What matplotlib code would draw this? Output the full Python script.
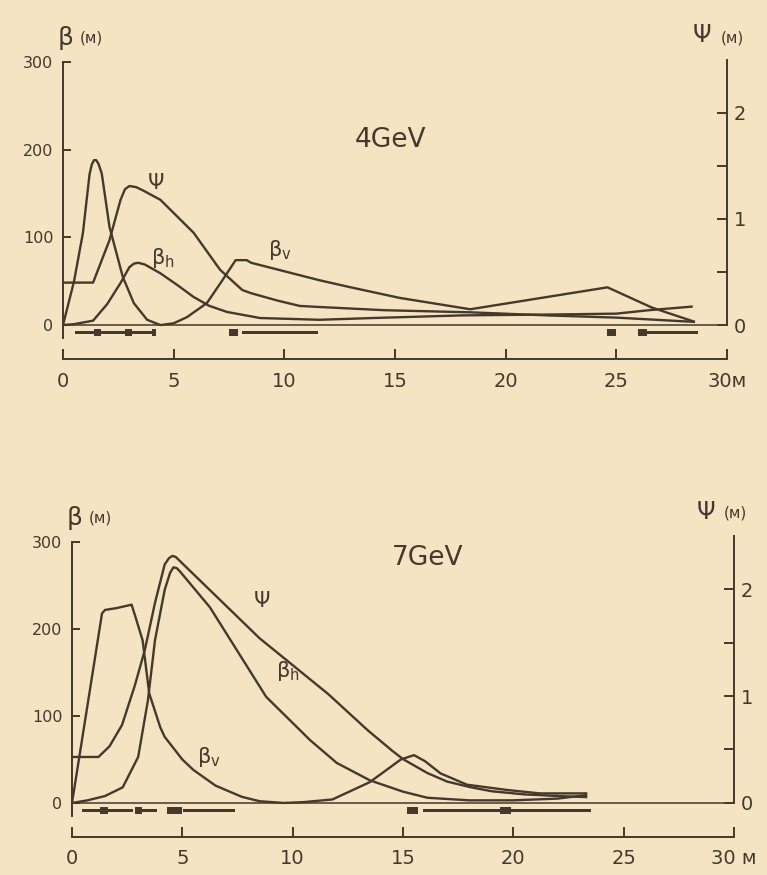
import matplotlib
matplotlib.use('Agg')
import matplotlib.pyplot as plt

plt.rcParams['font.family'] = ['DejaVu Sans']

PAPER = '#f4e4c1'
INK = '#45382f'

# ---- 4 GeV (top) ----
s_bv4 = [0, 0.5, 0.9, 1.2, 1.3, 1.4, 1.5, 1.6, 1.75, 2.1, 2.7, 3.2, 3.8, 4.4, 5.0, 5.6, 6.5, 7.2, 7.8, 8.3,
         8.5, 11.6, 13.0, 15.2, 18.4, 24.6, 26.6, 28.5]
bv4 = [0, 50, 105, 172, 183, 188, 188, 184, 173, 112, 55, 25, 6, 0, 2, 9, 25, 51, 74, 74,
       71, 51, 43, 31, 18, 43, 20, 4]
s_bh4 = [0, 0.5, 1.36, 2.0, 2.6, 3.0, 3.2, 3.4, 3.7, 4.4, 5.2, 5.9, 6.6, 7.4, 8.9, 11.6, 14.0, 18.0, 22.0,
         25.0, 26.5, 28.4]
bh4 = [0, 1, 5, 24, 48, 66, 70, 71, 69, 59, 45, 32, 22, 15, 8, 6, 8, 11, 12, 13, 17, 21]
s_psi4 = [0, 1.36, 2.1, 2.6, 2.8, 3.0, 3.3, 3.6, 4.4, 5.9, 7.1, 8.1, 8.5, 9.7, 10.7, 11.6, 14.5, 18.4, 22.0,
          25.0, 28.5]
psi4 = [0.40, 0.40, 0.80, 1.18, 1.28, 1.31, 1.30, 1.27, 1.18, 0.87, 0.52, 0.33, 0.30, 0.23, 0.18, 0.17,
        0.14, 0.12, 0.09, 0.07, 0.03]
# magnets: (start, length)
thin4 = [(0.54, 0.9), (1.7, 1.1), (3.1, 0.9), (8.1, 3.4), (26.4, 2.3)]
block4 = [(1.4, 0.3), (2.8, 0.3), (4.0, 0.2), (7.5, 0.4), (24.6, 0.4), (26.0, 0.4)]

# ---- 7 GeV (bottom) ----
s_bv7 = [0, 0.7, 1.36, 1.5, 2.0, 2.7, 2.9, 3.2, 3.5, 4.0, 4.2, 5.0, 5.5, 6.5, 7.7, 8.5, 9.6, 10.5, 11.8,
         13.5, 14.9, 15.5, 16.0, 16.7, 17.9, 19.7, 21.2, 23.3]
bv7 = [0, 112, 218, 222, 224, 228, 212, 187, 126, 87, 76, 50, 38, 20, 7, 2, 0, 1, 4,
       24, 50, 55, 48, 34, 21, 15, 11, 11]
s_bh7 = [0, 0.7, 1.5, 2.3, 3.0, 3.44, 3.76, 4.2, 4.45, 4.6, 4.75, 4.9, 6.25, 8.8, 10.8, 12.0, 13.5, 15.0,
         16.1, 18.0, 20.0, 22.0, 23.3]
bh7 = [0, 3, 8, 18, 53, 118, 187, 245, 265, 271, 270, 266, 225, 122, 72, 46, 26, 13, 6, 3, 3, 5, 9]
s_psi7 = [0, 1.2, 1.7, 2.27, 2.85, 3.3, 3.76, 4.2, 4.4, 4.55, 4.7, 4.85, 5.2, 8.5, 11.6, 13.4, 14.5, 15.0,
          16.1, 17.0, 18.0, 19.0, 20.5, 22.0, 23.3]
psi7 = [0.43, 0.43, 0.53, 0.73, 1.10, 1.43, 1.87, 2.23, 2.29, 2.31, 2.30, 2.27, 2.20, 1.54, 1.02, 0.68,
        0.49, 0.41, 0.28, 0.20, 0.15, 0.11, 0.08, 0.065, 0.055]
thin7 = [(0.45, 0.82), (1.63, 1.13), (3.17, 0.68), (5.03, 2.37), (15.9, 7.6)]
block7 = [(1.27, 0.36), (2.85, 0.32), (4.3, 0.7), (15.2, 0.5), (19.4, 0.5)]

xticks = [0, 5, 10, 15, 20, 25, 30]
yticks = [0, 100, 200, 300]
psi_ticks = [0, 0.5, 1, 1.5, 2]


def fx(px):
    return px / 767.0


def fy(py):
    return 1 - py / 875.0


def panel(fig, rect, scale, s_bv, bv, s_bh, bh, s_psi, psi, thin, block, last_lbl, title, title_xy,
          lbl_psi, lbl_bh, lbl_bv):
    ax = fig.add_axes(rect)
    ax.set_facecolor('none')
    ax.set_xlim(0, 30)
    ax.set_ylim(-15, 307)
    for k in ['top', 'right']:
        ax.spines[k].set_visible(False)
    ax.spines['left'].set_bounds(-15, 300)
    ax.spines['bottom'].set_bounds(0, 30)
    ax.spines['bottom'].set_position(('outward', 15))
    for k in ['left', 'bottom']:
        ax.spines[k].set_color(INK)
        ax.spines[k].set_linewidth(1.4)
    ax.set_xticks(xticks)
    ax.set_xticklabels([str(t) for t in xticks[:-1]] + [last_lbl])
    ax.set_yticks(yticks)
    ax.tick_params(axis='x', direction='in', length=7, width=1.4, color=INK, labelcolor=INK,
                   labelsize=14, pad=9)
    ax.tick_params(axis='y', direction='in', length=6, width=1.4, color=INK, labelcolor=INK,
                   labelsize=11.5, pad=7)

    ax.axhline(0, color=INK, lw=1.1)
    ax.plot(s_bv, bv, color=INK, lw=1.7)
    ax.plot(s_bh, bh, color=INK, lw=1.7)
    ax.broken_barh(thin, (-10.5, 3.5), facecolors=INK)
    ax.broken_barh(block, (-13, 8.5), facecolors=INK)

    ax2 = ax.twinx()
    ax2.set_ylim(-15 / scale, 307 / scale)
    for k in ['top', 'left', 'bottom']:
        ax2.spines[k].set_visible(False)
    ax2.spines['right'].set_bounds(0, 2.5)
    ax2.spines['right'].set_color(INK)
    ax2.spines['right'].set_linewidth(1.4)
    ax2.set_yticks(psi_ticks)
    ax2.set_yticklabels(['0', '', '1', '', '2'])
    ax2.tick_params(axis='y', direction='in', length=7, width=1.4, color=INK, labelcolor=INK,
                    labelsize=14, pad=5)
    ax2.plot(s_psi, psi, color=INK, lw=1.7)

    ax.text(title_xy[0], title_xy[1], title, fontsize=19, color=INK, ha='center', va='center')
    ax.text(lbl_psi[0], lbl_psi[1], 'Ψ', fontsize=15, color=INK, ha='center', va='center')
    ax.text(lbl_bh[0], lbl_bh[1], 'β$_{\\mathregular{h}}$', fontsize=15, color=INK, ha='center',
            va='center')
    ax.text(lbl_bv[0], lbl_bv[1], 'β$_{\\mathregular{v}}$', fontsize=15, color=INK, ha='center',
            va='center')
    return ax


fig = plt.figure(figsize=(7.67, 8.75), dpi=100)
fig.patch.set_facecolor(PAPER)

panel(fig, [fx(63), fy(338.2), fx(727) - fx(63), 282.4 / 875], 121,
      s_bv4, bv4, s_bh4, bh4, s_psi4, psi4, thin4, block4, '30м',
      '4GeV', (14.8, 211), (4.2, 162), (4.5, 76), (9.8, 85))
panel(fig, [fx(72), fy(816), fx(734) - fx(72), 280.0 / 875], 123,
      s_bv7, bv7, s_bh7, bh7, s_psi7, psi7, thin7, block7, '30 м',
      '7GeV', (16.1, 282), (8.6, 232), (9.8, 152), (6.2, 53))

# axis titles
fig.text(fx(66), fy(38), 'β', fontsize=18, color=INK, ha='center', va='center')
fig.text(fx(91), fy(38), '(м)', fontsize=11, color=INK, ha='center', va='center')
fig.text(fx(702), fy(35), 'Ψ', fontsize=17, color=INK, ha='center', va='center')
fig.text(fx(732), fy(38), '(м)', fontsize=11, color=INK, ha='center', va='center')
fig.text(fx(75), fy(518), 'β', fontsize=18, color=INK, ha='center', va='center')
fig.text(fx(100), fy(518), '(м)', fontsize=11, color=INK, ha='center', va='center')
fig.text(fx(706), fy(512), 'Ψ', fontsize=17, color=INK, ha='center', va='center')
fig.text(fx(735), fy(513), '(м)', fontsize=11, color=INK, ha='center', va='center')

fig.savefig('out.png', dpi=100, facecolor=PAPER)
